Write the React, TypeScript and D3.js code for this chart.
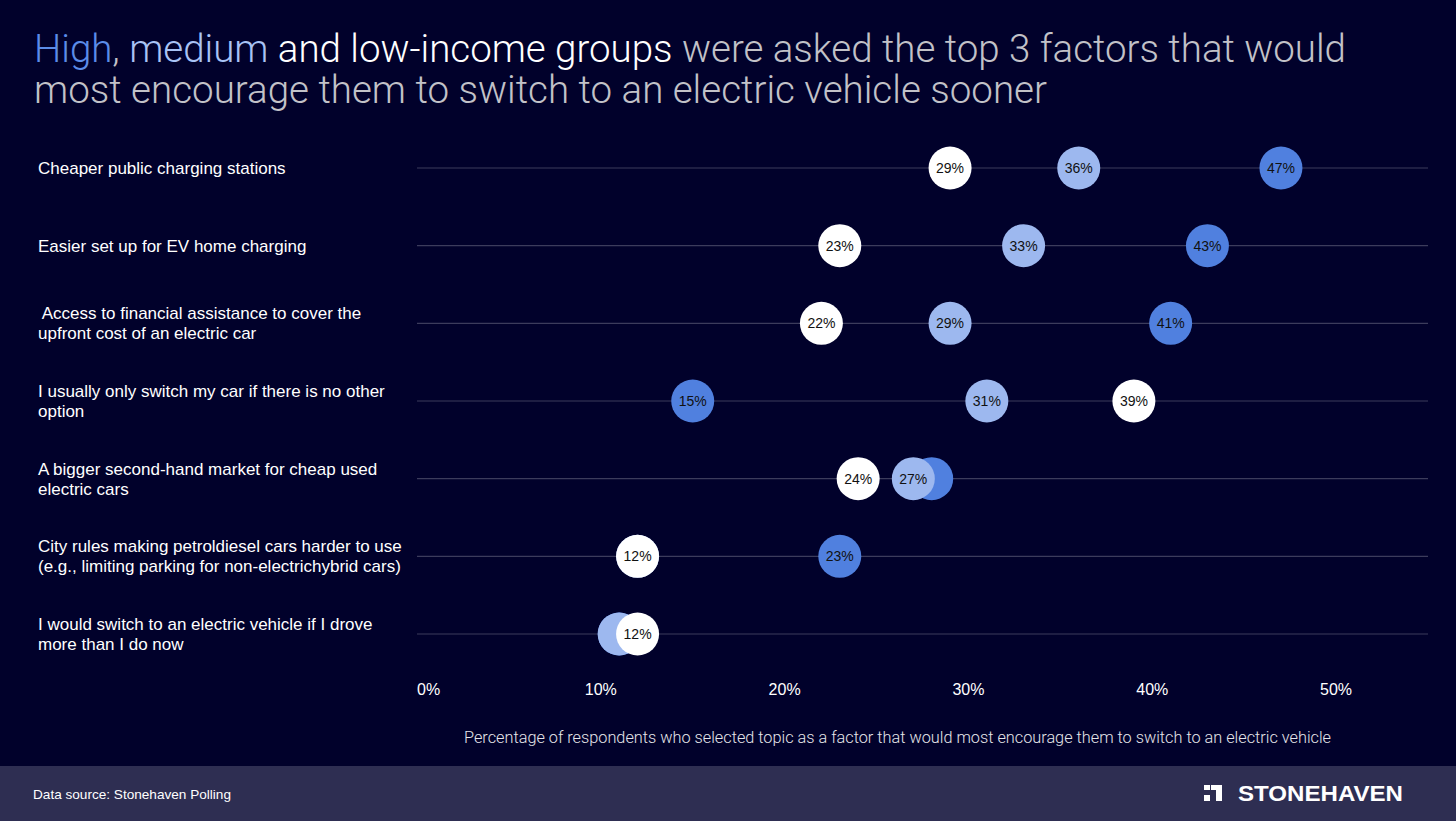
import { useEffect, useRef } from "react";
import * as d3 from "d3";

const categories = [
  ["Cheaper public charging stations"],
  ["Easier set up for EV home charging"],
  [" Access to financial assistance to cover the", "upfront cost of an electric car"],
  ["I usually only switch my car if there is no other", "option"],
  ["A bigger second-hand market for cheap used", "electric cars"],
  ["City rules making petroldiesel cars harder to use", "(e.g., limiting parking for non-electrichybrid cars)"],
  ["I would switch to an electric vehicle if I drove", "more than I do now"],
];

const highIncome = [47, 43, 41, 15, 28, 23, 11];
const mediumIncome = [36, 33, 29, 31, 27, 12, 11];
const lowIncome = [29, 23, 22, 39, 24, 12, 12];

const ticks = [0, 10, 20, 30, 40, 50];

const series = [
  { key: "high", values: highIncome, fill: "#5080df" },
  { key: "medium", values: mediumIncome, fill: "#9db8ef" },
  { key: "low", values: lowIncome, fill: "#ffffff" },
];

const W = 1456;
const H = 821;

const App = () => {
  const ref = useRef(null);

  useEffect(() => {
    document.body.style.margin = "0";
    document.body.style.background = "#01012b";
    const svg = d3.select(ref.current);
    svg.selectAll("*").remove();

    const x = d3.scaleLinear().domain([0, 55]).range([417, 1428]);
    const y = d3
      .scalePoint<number>()
      .domain(d3.range(categories.length))
      .range([168, 634]);

    svg.append("rect").attr("width", W).attr("height", H).attr("fill", "#01012b");

    // title
    const title = svg
      .append("text")
      .attr("x", 34)
      .attr("y", 62)
      .attr("textLength", 1312)
      .attr("lengthAdjust", "spacingAndGlyphs")
      .attr("font-family", "Roboto, 'Liberation Sans', sans-serif")
      .attr("font-weight", 300)
      .attr("font-size", 38);
    title.append("tspan").attr("fill", "#5b8ce8").text("High");
    title.append("tspan").attr("fill", "#c2c2c8").text(", ");
    title.append("tspan").attr("fill", "#a9c3f5").text("medium");
    title.append("tspan").attr("fill", "#ffffff").text(" and low-income groups");
    title.append("tspan").attr("fill", "#c2c2c8").text(" were asked the top 3 factors that would");
    svg
      .append("text")
      .attr("x", 34)
      .attr("y", 103)
      .attr("textLength", 1013)
      .attr("lengthAdjust", "spacingAndGlyphs")
      .attr("font-family", "Roboto, 'Liberation Sans', sans-serif")
      .attr("font-weight", 300)
      .attr("font-size", 38)
      .attr("fill", "#c2c2c8")
      .text("most encourage them to switch to an electric vehicle sooner");

    // category labels
    categories.forEach((lines, i) => {
      const t = svg
        .append("text")
        .attr("font-family", "'Liberation Sans', Arial, sans-serif")
        .attr("font-size", 17)
        .attr("fill", "#ffffff")
        .style("white-space", "pre");
      const y0 = y(i)! - ((lines.length - 1) * 20) / 2;
      lines.forEach((ln, j) => {
        t.append("tspan")
          .attr("x", 38)
          .attr("y", y0 + j * 20)
          .attr("dy", "0.35em")
          .text(ln);
      });
    });

    // grid lines
    svg
      .append("g")
      .selectAll("line")
      .data(d3.range(categories.length))
      .join("line")
      .attr("x1", x(0))
      .attr("x2", x(55))
      .attr("y1", (d) => y(d)!)
      .attr("y2", (d) => y(d)!)
      .attr("stroke", "#3c3c5c")
      .attr("stroke-width", 1.2);

    // x axis labels
    svg
      .append("g")
      .selectAll("text")
      .data(ticks)
      .join("text")
      .attr("x", (d) => x(d))
      .attr("y", 689)
      .attr("dy", "0.35em")
      .attr("text-anchor", (d) => (d === 0 ? "start" : "middle"))
      .attr("font-family", "'Liberation Sans', Arial, sans-serif")
      .attr("font-size", 16)
      .attr("fill", "#ffffff")
      .text((d) => d + "%");

    svg
      .append("text")
      .attr("x", 464)
      .attr("y", 737)
      .attr("dy", "0.35em")
      .attr("textLength", 867)
      .attr("lengthAdjust", "spacingAndGlyphs")
      .attr("font-family", "Roboto, 'Liberation Sans', sans-serif")
      .attr("font-weight", 300)
      .attr("font-size", 16)
      .attr("fill", "#e6e6ea")
      .text(
        "Percentage of respondents who selected topic as a factor that would most encourage them to switch to an electric vehicle"
      );

    // dots
    const r = 21.5;
    series.forEach((s, si) => {
      const g = svg.append("g");
      s.values.forEach((v, i) => {
        g.append("circle")
          .attr("cx", x(v))
          .attr("cy", y(i)!)
          .attr("r", r)
          .attr("fill", s.fill);
        const covered = series
          .slice(si + 1)
          .some((o) => Math.abs(o.values[i] - v) <= 2);
        if (!covered) {
          g.append("text")
            .attr("x", x(v))
            .attr("y", y(i)!)
            .attr("dy", "0.35em")
            .attr("text-anchor", "middle")
            .attr("font-family", "'Liberation Sans', Arial, sans-serif")
            .attr("font-size", 14)
            .attr("fill", "#111111")
            .text(v + "%");
        }
      });
    });

    // footer
    svg.append("rect").attr("x", 0).attr("y", 766).attr("width", W).attr("height", H - 766).attr("fill", "#2e2e52");
    svg
      .append("text")
      .attr("x", 33)
      .attr("y", 794)
      .attr("dy", "0.35em")
      .attr("font-family", "'Liberation Sans', Arial, sans-serif")
      .attr("font-size", 13.6)
      .attr("fill", "#ffffff")
      .text("Data source: Stonehaven Polling");
    const logo = svg.append("g").attr("fill", "#ffffff");
    logo.append("rect").attr("x", 1204).attr("y", 785).attr("width", 6).attr("height", 5);
    logo.append("rect").attr("x", 1211).attr("y", 785).attr("width", 11).attr("height", 5);
    logo.append("rect").attr("x", 1216).attr("y", 790).attr("width", 6).attr("height", 11);
    logo.append("rect").attr("x", 1204).attr("y", 795).attr("width", 6).attr("height", 6);
    svg
      .append("text")
      .attr("x", 1238)
      .attr("y", 793)
      .attr("dy", "0.35em")
      .attr("textLength", 165)
      .attr("lengthAdjust", "spacingAndGlyphs")
      .attr("font-family", "'Liberation Sans', Arial, sans-serif")
      .attr("font-weight", 700)
      .attr("font-size", 22)
      .attr("fill", "#ffffff")
      .text("STONEHAVEN");
  }, []);

  return (
    <svg
      ref={ref}
      width={W}
      height={H}
      style={{ position: "absolute", left: 0, top: 0, display: "block" }}
    ></svg>
  );
};

export default App;
